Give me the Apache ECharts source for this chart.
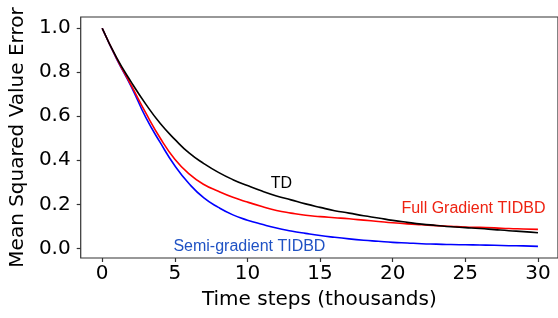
<!DOCTYPE html>
<html>
<head>
<meta charset="utf-8">
<script src="https://cdn.jsdelivr.net/npm/echarts@6/dist/echarts.min.js"></script>
<style>
  html, body { margin: 0; padding: 0; background: #fff; }
  #main { width: 558px; height: 318px; }
</style>
</head>
<body>
<div id="main"></div>
<script>
// time steps in thousands
let steps = [0, 1, 2, 3, 4, 5, 6, 7, 8, 9, 10, 11, 12, 13, 14, 15, 16, 17, 18, 19, 20, 21, 22, 23, 24, 25, 26, 27, 28, 29, 30];

let tdError = [1.0, 0.865, 0.755, 0.655, 0.567, 0.495, 0.432, 0.385, 0.345, 0.312, 0.285, 0.26, 0.238, 0.22, 0.202, 0.186, 0.171, 0.16, 0.148, 0.138, 0.127, 0.118, 0.11, 0.104, 0.098, 0.094, 0.09, 0.085, 0.08, 0.076, 0.071];
let fullGradError = [1.0, 0.862, 0.74, 0.615, 0.5, 0.405, 0.337, 0.29, 0.259, 0.232, 0.21, 0.19, 0.172, 0.16, 0.15, 0.144, 0.139, 0.134, 0.128, 0.122, 0.116, 0.111, 0.107, 0.103, 0.1, 0.097, 0.095, 0.093, 0.09, 0.088, 0.086];
let semiGradError = [1.0, 0.86, 0.735, 0.595, 0.48, 0.375, 0.292, 0.229, 0.186, 0.152, 0.128, 0.109, 0.092, 0.079, 0.068, 0.058, 0.05, 0.043, 0.037, 0.032, 0.027, 0.024, 0.021, 0.019, 0.017, 0.016, 0.015, 0.014, 0.012, 0.011, 0.009];

let xTicks = [0, 5, 10, 15, 20, 25, 30];
let yTicks = [0, 0.2, 0.4, 0.6, 0.8, 1.0];

// text annotations: [label, x, y (baseline), color]
let notes = [
    ['TD', 11.6, 0.27, '#000000'],
    ['Full Gradient TIDBD', 20.6, 0.159, '#ee2211'],
    ['Semi-gradient TIDBD', 4.9, -0.015, '#1f52c4']
];

let chartDom = document.getElementById('main');
let myChart = echarts.init(chartDom);

function pairs(ys) {
    return steps.map(function (t, i) { return [t, ys[i]]; });
}

function line(name, ys, color) {
    return {
        name: name,
        type: 'line',
        data: pairs(ys),
        showSymbol: false,
        smooth: 0.5,
        lineStyle: { color: color, width: 1.6 },
        animation: false
    };
}

let axisFont = 'DejaVu Sans';

let option = {
    animation: false,
    grid: {
        left: 80, right: -4, top: 17, bottom: 60,
        show: true,
        borderColor: '#333',
        borderWidth: 1.2,
        backgroundColor: 'transparent'
    },
    xAxis: {
        type: 'value',
        min: -1.48,
        max: 31.38,
        axisLine: { show: false, onZero: false },
        axisTick: { show: true, length: 4, lineStyle: { color: '#333', width: 1.2 }, customValues: xTicks },
        axisLabel: { customValues: xTicks, fontSize: 20, color: '#000', fontFamily: axisFont, margin: 6 },
        splitLine: { show: false },
        name: 'Time steps (thousands)',
        nameLocation: 'middle',
        nameGap: 32,
        nameTextStyle: { fontSize: 20, color: '#000', fontFamily: axisFont }
    },
    yAxis: {
        type: 'value',
        min: -0.044,
        max: 1.051,
        axisLine: { show: false, onZero: false },
        axisTick: { show: true, length: 4, lineStyle: { color: '#333', width: 1.2 }, customValues: yTicks },
        axisLabel: {
            customValues: yTicks, fontSize: 20, color: '#000', fontFamily: axisFont, margin: 10,
            formatter: function (v) { return v.toFixed(1); }
        },
        splitLine: { show: false },
        name: 'Mean Squared Value Error',
        nameLocation: 'middle',
        nameRotate: 90,
        nameGap: 50,
        nameTextStyle: { fontSize: 20, color: '#000', fontFamily: axisFont }
    },
    series: [
        line('Semi-gradient TIDBD', semiGradError, '#0000ff'),
        line('Full Gradient TIDBD', fullGradError, '#ff0000'),
        line('TD', tdError, '#000000')
    ]
};

myChart.setOption(option);

// place annotations from data coordinates (baseline -> shift by descent)
let texts = notes.map(function (n) {
    let p = myChart.convertToPixel({ gridIndex: 0 }, [n[1], n[2]]);
    return {
        type: 'text',
        x: p[0],
        y: p[1] + 3,
        style: {
            text: n[0],
            fill: n[3],
            font: '16px "Liberation Sans", Arial, sans-serif',
            align: 'left',
            verticalAlign: 'bottom'
        },
        z: 10
    };
});
myChart.setOption({ graphic: texts });
</script>
</body>
</html>
